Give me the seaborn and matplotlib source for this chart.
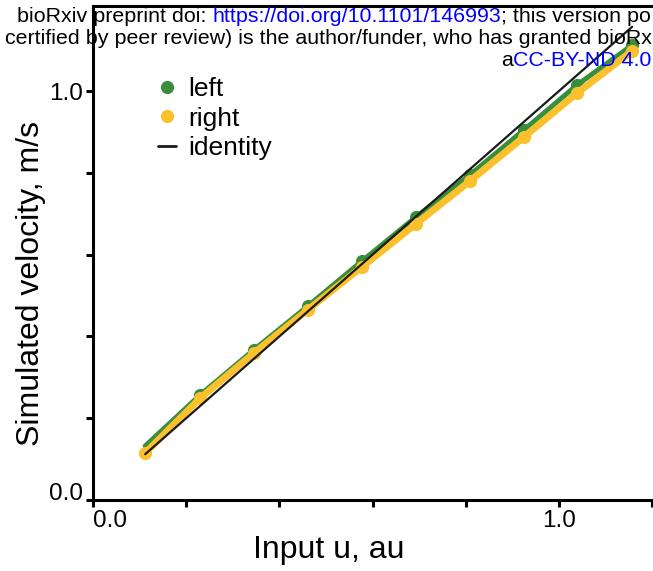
import matplotlib
matplotlib.use("Agg")
import matplotlib.pyplot as plt
from matplotlib.lines import Line2D
import seaborn as sns
import pandas as pd

# ---------------- data ----------------
input_u = [0.112, 0.230, 0.345, 0.461, 0.577, 0.693, 0.809, 0.925, 1.039, 1.157]
left_v = [0.132, 0.257, 0.367, 0.474, 0.584, 0.692, 0.795, 0.905, 1.015, 1.112]
right_v = [0.115, 0.249, 0.359, 0.465, 0.570, 0.675, 0.780, 0.888, 0.995, 1.098]
identity_u = [0.112, 1.157]
identity_v = [0.112, 1.157]
series_names = ["left", "right", "identity"]
x_major_ticks = [0.0, 1.0]
x_tick_labels = ["0.0", "1.0"]
y_major_ticks = [0.0, 1.0]
y_tick_labels = ["0.0", "1.0"]
minor_ticks = [0.2, 0.4, 0.6, 0.8, 1.2]
x_label = "Input u, au"
y_label = "Simulated velocity, m/s"
header_line1 = ["bioRxiv preprint doi: ", "https://doi.org/10.1101/146993",
                "; this version po"]
header_line2 = "certified by peer review) is the author/funder, who has granted bioRx"
header_line3 = ["a", "CC-BY-ND 4.0"]

GREEN = "#388E3C"
YELLOW = "#FBC02D"
BLACK = "#1a1a1a"
LINK = "#0000ff"

sns.set_style("ticks")
plt.rcParams["font.family"] = ["Liberation Sans", "DejaVu Sans"]
plt.rcParams.update({"text.color": "black", "axes.labelcolor": "black",
                     "xtick.color": "black", "ytick.color": "black",
                     "axes.edgecolor": "black"})

W, H = 653, 571
fig = plt.figure(figsize=(W / 100, H / 100), dpi=100)

# axes geometry (pixels): x=0 -> 93 px, 466 px per unit ; y=0 -> 500 px, 409 px per unit
xlim = (0.0, 1.25)
ylim = (0.0, 1.208)
ax_w = (xlim[1] - xlim[0]) * 466
ax_h = (ylim[1] - ylim[0]) * 409
ax = fig.add_axes([93 / W, (H - 500) / H, ax_w / W, ax_h / H])

df = pd.DataFrame({"u": input_u, "left": left_v, "right": right_v})
df_id = pd.DataFrame({"u": identity_u, "v": identity_v})

sns.lineplot(data=df, x="u", y="left", ax=ax, color=GREEN, lw=3.6, marker="o",
             markersize=9.5, markeredgewidth=0, markevery=list(range(1, len(input_u))),
             sort=False, errorbar=None, zorder=2)
sns.lineplot(data=df, x="u", y="right", ax=ax, color=YELLOW, lw=5.0, marker="o",
             markersize=9.5, markeredgewidth=0, sort=False, errorbar=None, zorder=3)
sns.lineplot(data=df_id, x="u", y="v", ax=ax, color=BLACK, lw=1.6, sort=False,
             errorbar=None, zorder=4)

ax.set_xlim(*xlim)
ax.set_ylim(*ylim)
ax.set_xticks(x_major_ticks)
ax.set_xticklabels(x_tick_labels)
ax.set_yticks(y_major_ticks)
ax.set_yticklabels(y_tick_labels)
ax.set_xticks(minor_ticks, minor=True)
ax.set_yticks(minor_ticks[:4], minor=True)
ax.tick_params(which="both", direction="out", length=5, width=2.2, color="black")
ax.tick_params(which="major", labelsize=17.5, pad=2, labelcolor="black")
for s in ax.spines.values():
    s.set_linewidth(2.2)
    s.set_color("black")
    s.set_visible(True)

ax.xaxis.get_major_ticks()[0].label1.set_horizontalalignment("left")
ax.yaxis.get_major_ticks()[0].label1.set_verticalalignment("baseline")

ax.set_xlabel(x_label, fontsize=23, color="black")
ax.set_ylabel(y_label, fontsize=23, color="black")
ax.xaxis.set_label_coords((329 - 93) / ax_w, (500 - 535) / ax_h)
ax.yaxis.set_label_coords((46 - 93) / ax_w, (500 - 283) / ax_h)

handles = [
    Line2D([], [], ls="none", marker="o", color=GREEN, markersize=9.5, markeredgewidth=0),
    Line2D([], [], ls="none", marker="o", color=YELLOW, markersize=9.5, markeredgewidth=0),
    Line2D([], [], color=BLACK, lw=2),
]
ax.legend(handles, series_names, loc="upper left",
          bbox_to_anchor=((158 - 93) / ax_w, (500 - 77) / ax_h),
          frameon=False, fontsize=19, handlelength=0.7, handletextpad=0.45,
          labelspacing=0.21, borderpad=0, borderaxespad=0)

# ---------------- header watermark ----------------
HFS = 15.4
t = fig.text(17 / W, 1 - 17 / H, header_line1[0], fontsize=HFS, va="center",
             ha="left", color="black")
for i, piece in enumerate(header_line1[1:]):
    t = ax.annotate(piece, xy=(1, 0.5), xycoords=t, va="center", ha="left",
                    fontsize=HFS, color=LINK if i == 0 else "black",
                    annotation_clip=False)
fig.text(5 / W, 1 - 39 / H, header_line2, fontsize=HFS, va="center", ha="left",
         color="black")
t3 = fig.text(651 / W, 1 - 61 / H, header_line3[1], fontsize=HFS, va="center",
              ha="right", color=LINK)
ax.annotate(header_line3[0], xy=(0, 0.5), xycoords=t3, va="center", ha="right",
            fontsize=HFS, color="black", annotation_clip=False)

fig.savefig("out.png", dpi=100)
